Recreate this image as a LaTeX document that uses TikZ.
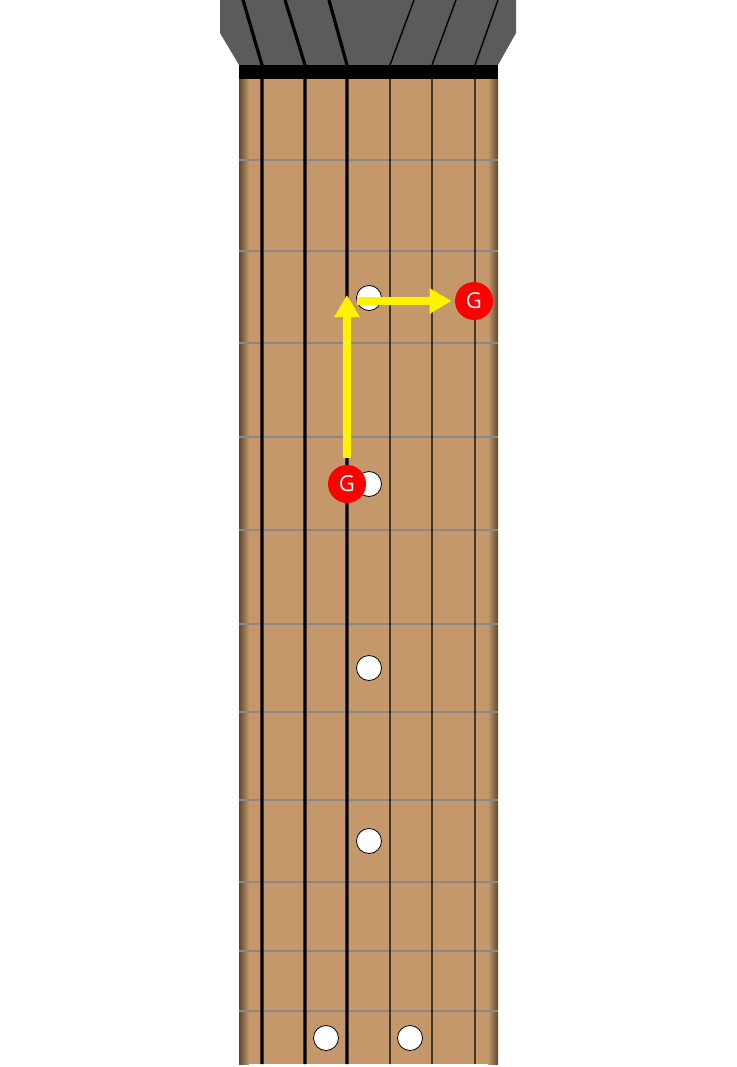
\documentclass[tikz,border=0pt]{standalone}
\usepackage{fontspec}
\setmainfont{Open Sans}
\usetikzlibrary{arrows.meta}

\definecolor{wood}{HTML}{C4986A}
\definecolor{woodedge}{HTML}{5E4830}
\definecolor{head}{HTML}{5B5B5D}
\definecolor{fretgray}{HTML}{888888}

\begin{document}
\begin{tikzpicture}[
      x=1pt, y=-1pt,
      line width=.6pt,
      fret/.style={fretgray, line width=1.3pt},
      wound/.style={black, line width=3.2pt},
      plain/.style={black, line width=1.4pt},
      inlay/.style={circle, draw=black, fill=white, line width=.8pt,
                    minimum size=25pt, inner sep=0pt},
      note/.style={circle, fill=red, text=white, minimum size=38pt,
                   inner sep=0pt, font=\fontsize{22}{22}\selectfont},
      move/.style={yellow, line width=8pt,
                   -{Triangle[width=24pt,length=22pt]}}]

    \useasboundingbox (0,0) rectangle (736,1067);

    % headstock y=0
    \fill[head] (220,0) -- (516,0) -- (516,33) -- (498,65)
                -- (239,65) -- (220,33) -- cycle;

    % fretboard y=79
    \fill[wood] (239,79) rectangle (498,1064);
    \shade[left color=woodedge, right color=wood] (239,79) rectangle (249,1064);
    \shade[left color=wood, right color=woodedge] (488,79) rectangle (498,1064);

    % frets
    \foreach \y in {160,251,343,437,530,624,712,800,882,951,1011}
      \draw[fret] (239,\y) -- (498,\y);

    % strings (top end in the headstock / x on the board)
    \foreach \t/\x in {243/262, 285/305, 329/347}
      \draw[wound] (\t,0) -- (\x,65) -- (\x,1064);
    \foreach \t/\x in {414/390, 456/432, 498/475}
      \draw[plain] (\t,0) -- (\x,65) -- (\x,1064);

    % nut y=65
    \fill[black] (239,65) rectangle (498,79);

    % inlays
    \node[inlay] (dot3) at (369,298) {};
    \node[inlay] (dot5) at (369,484) {};
    \node[inlay] (dot7) at (369,668) {};
    \node[inlay] (dot9) at (369,841) {};
    \node[inlay] (dot12a) at (326,1038) {};
    \node[inlay] (dot12b) at (410,1038) {};

    % notes
    \node[note] (lowg) at (347,484) {G};
    \node[note] (highg) at (474,301) {G};
    \coordinate (corner) at (347,295);
    \coordinate (across) at (357,301);

    % moves
    \draw[move, shorten <=7pt] (lowg) -- (corner);
    \draw[move, shorten >=3pt] (across) -- (highg);

  \end{tikzpicture}
\end{document}
